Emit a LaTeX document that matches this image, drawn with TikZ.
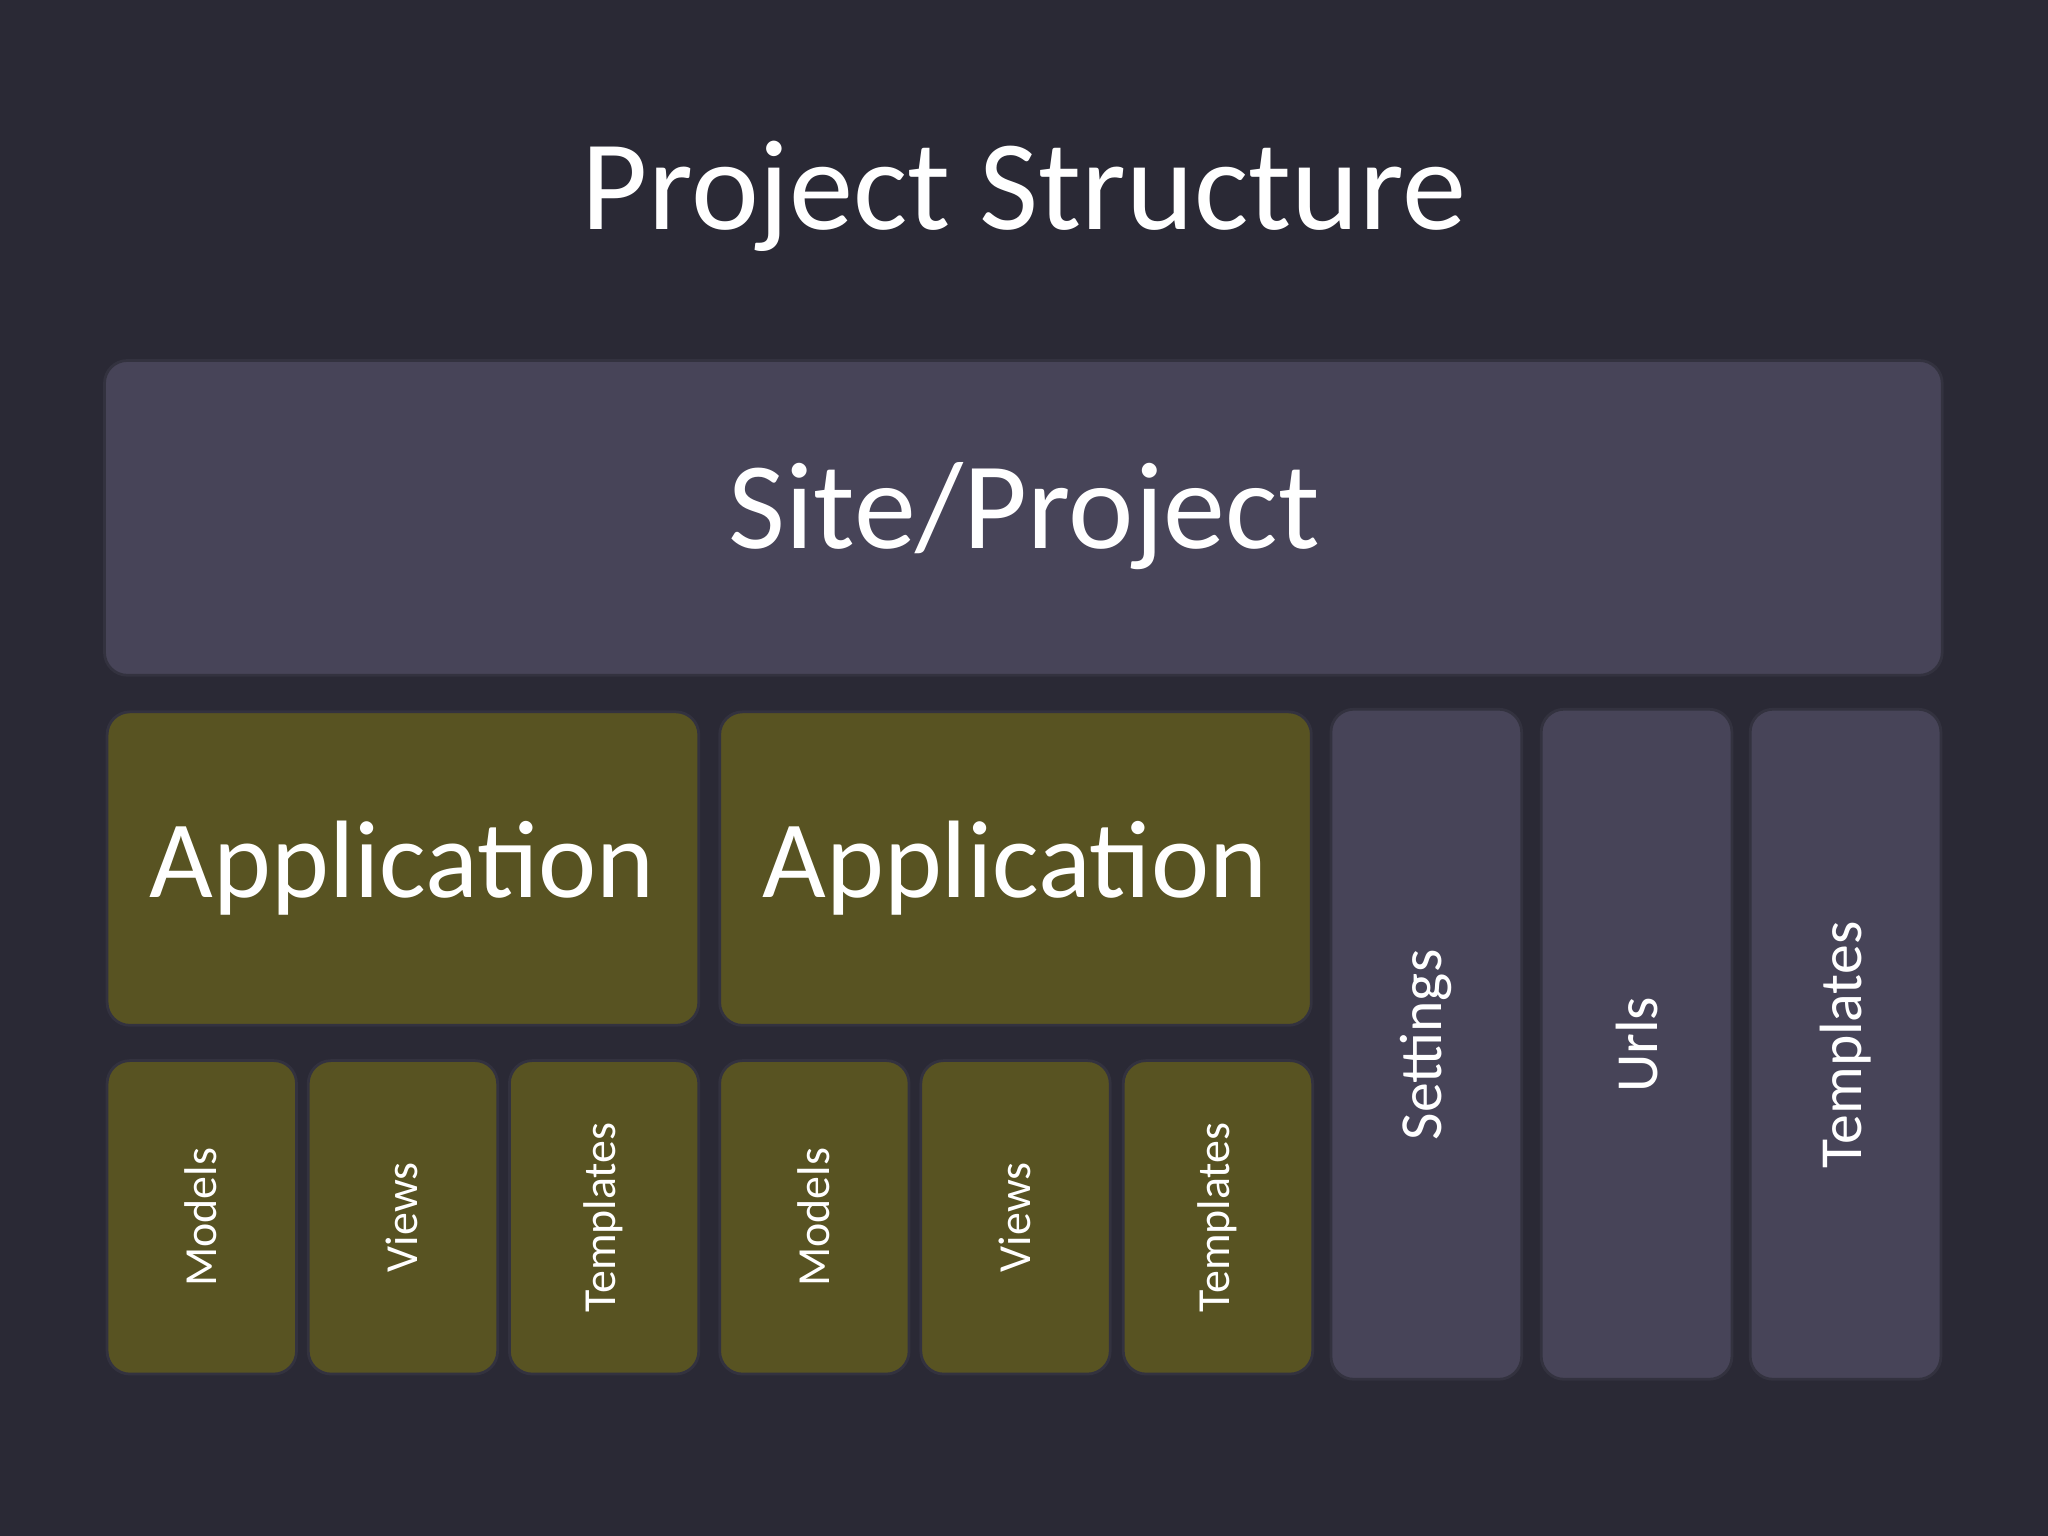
\documentclass[tikz,border=0pt]{standalone}
\usepackage{fontspec}
\setmainfont{Carlito}
\definecolor{bg}{HTML}{2A2935}
\definecolor{site}{HTML}{474458}
\definecolor{app}{HTML}{585322}
\definecolor{edge}{HTML}{33323F}
\begin{document}
\begin{tikzpicture}[x=0.02cm,y=-0.02cm,
  box/.style={draw=edge,line width=1.2pt,rounded corners=0.35cm,font=\color{white}},
  sitebox/.style={box,fill=site},
  appbox/.style={box,fill=app}]
\fill[bg] (0,0) rectangle (1568,1176);
\node[font=\fontsize{56}{60}\selectfont\color{white}] (title) at (784,150) {Project Structure};
\draw[sitebox] (80,276) rectangle (1487,517);
\node[font=\fontsize{54}{60}\selectfont\color{white}] (site) at (784,395) {Site/Project};
\foreach \x/\n in {82/a1,551/a2}{
  \draw[appbox] (\x,545) rectangle (\x+453,785);
  \node[font=\fontsize{48}{52}\selectfont\color{white}] (\n) at (\x+226,665) {Application};
}
\foreach \x/\t/\n in {82/Models/m1,236/Views/v1,390/Templates/t1,551/Models/m2,705/Views/v2,860/Templates/t2}{
  \draw[appbox] (\x,812) rectangle (\x+145,1052);
  \node[rotate=90,font=\fontsize{20}{24}\selectfont\color{white}] (\n) at (\x+72,932) {\t};
}
\foreach \x/\t/\n in {1019/Settings/s,1180/Urls/u,1340/Templates/tt}{
  \draw[sitebox] (\x,543) rectangle (\x+146,1056);
  \node[rotate=90,font=\fontsize{26}{30}\selectfont\color{white}] (\n) at (\x+73,800) {\t};
}
\end{tikzpicture}
\end{document}
